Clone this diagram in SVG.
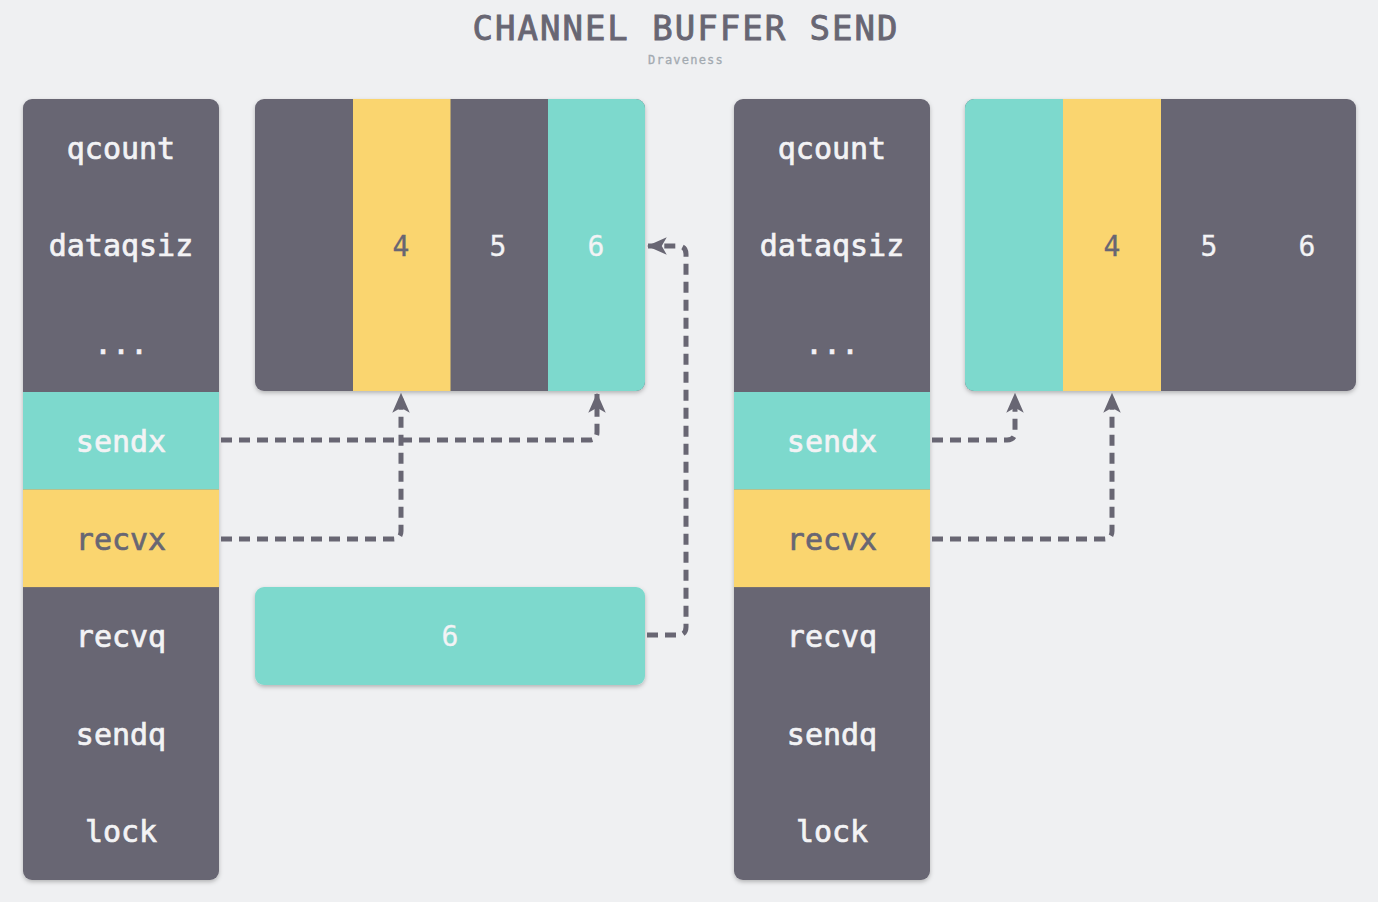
<svg xmlns="http://www.w3.org/2000/svg" width="1378" height="902" viewBox="0 0 1378 902">
<defs>
<style>
.t{font-family:"DejaVu Sans Mono","Liberation Mono",monospace;font-size:30px;text-anchor:middle;dominant-baseline:central;stroke-width:0.7px}
.w{fill:#f3f3f5;stroke:#f3f3f5}
.d{fill:#686673;stroke:#686673}
.n{font-family:"DejaVu Sans Mono","Liberation Mono",monospace;font-size:28px;text-anchor:middle;dominant-baseline:central;stroke-width:0.3px}
.c{fill:none;stroke:#686673;stroke-width:5;stroke-dasharray:11 7;stroke-linejoin:round}
</style>
<filter id="sh" x="-10%" y="-10%" width="120%" height="120%">
<feDropShadow dx="0" dy="2" stdDeviation="2" flood-color="#000" flood-opacity="0.25"/>
</filter>
<marker id="ar" viewBox="0 0 16 16" refX="15" refY="8" markerWidth="20" markerHeight="20" markerUnits="userSpaceOnUse" orient="auto">
<path d="M0,1 L16,8 L0,15 L4,8 Z" fill="#686673"/>
</marker>
<clipPath id="cl1"><rect x="23" y="99" width="196" height="781" rx="9"/></clipPath>
<clipPath id="cl2"><rect x="734" y="99" width="196" height="781" rx="9"/></clipPath>
<clipPath id="cb1"><rect x="255" y="99" width="390" height="292" rx="9"/></clipPath>
<clipPath id="cb2"><rect x="965" y="99" width="391" height="292" rx="9"/></clipPath>
</defs>
<rect width="1378" height="902" fill="#eff0f2"/>
<text x="686" y="28" font-family="DejaVu Sans Mono, Liberation Mono, monospace" font-size="34" fill="#686673" stroke="#686673" stroke-width="0.9" text-anchor="middle" dominant-baseline="central" letter-spacing="2">CHANNEL BUFFER SEND</text>
<text x="686" y="60" font-family="DejaVu Sans Mono, Liberation Mono, monospace" font-size="12" fill="#a3aab1" stroke="#a3aab1" stroke-width="0.3" text-anchor="middle" dominant-baseline="central" letter-spacing="1.2">Draveness</text>

<g id="hchan1">
<rect x="23" y="99" width="196" height="781" rx="9" fill="#686673" filter="url(#sh)"/>
<g clip-path="url(#cl1)">
<rect x="23" y="392" width="196" height="97.6" fill="#7dd9cd"/>
<rect x="23" y="489.5" width="196" height="97.6" fill="#fad56f"/>
</g>
<text class="t w" x="121" y="148">qcount</text>
<text class="t w" x="121" y="245">dataqsiz</text>
<text class="t w" x="121" y="343">...</text>
<text class="t w" x="121" y="441">sendx</text>
<text class="t d" x="121" y="539">recvx</text>
<text class="t w" x="121" y="636">recvq</text>
<text class="t w" x="121" y="734">sendq</text>
<text class="t w" x="121" y="831">lock</text>
</g>

<g id="buf1">
<rect x="255" y="99" width="390" height="292" rx="9" fill="#686673" filter="url(#sh)"/>
<g clip-path="url(#cb1)">
<rect x="353" y="99" width="97.5" height="292" fill="#fad56f"/>
<rect x="548" y="99" width="97" height="292" fill="#7dd9cd"/>
</g>
<text class="n d" x="401" y="246">4</text>
<text class="n w" x="498" y="246">5</text>
<text class="n w" x="596" y="246">6</text>
</g>

<g id="elem6">
<rect x="255" y="587" width="390" height="98" rx="9" fill="#7dd9cd" filter="url(#sh)"/>
<text class="n w" x="450" y="636">6</text>
</g>

<g id="hchan2">
<rect x="734" y="99" width="196" height="781" rx="9" fill="#686673" filter="url(#sh)"/>
<g clip-path="url(#cl2)">
<rect x="734" y="392" width="196" height="97.6" fill="#7dd9cd"/>
<rect x="734" y="489.5" width="196" height="97.6" fill="#fad56f"/>
</g>
<text class="t w" x="832" y="148">qcount</text>
<text class="t w" x="832" y="245">dataqsiz</text>
<text class="t w" x="832" y="343">...</text>
<text class="t w" x="832" y="441">sendx</text>
<text class="t d" x="832" y="539">recvx</text>
<text class="t w" x="832" y="636">recvq</text>
<text class="t w" x="832" y="734">sendq</text>
<text class="t w" x="832" y="831">lock</text>
</g>

<g id="buf2">
<rect x="965" y="99" width="391" height="292" rx="9" fill="#686673" filter="url(#sh)"/>
<g clip-path="url(#cb2)">
<rect x="965" y="99" width="98" height="292" fill="#7dd9cd"/>
<rect x="1063" y="99" width="98" height="292" fill="#fad56f"/>
</g>
<text class="n d" x="1112" y="246">4</text>
<text class="n w" x="1209" y="246">5</text>
<text class="n w" x="1307" y="246">6</text>
</g>

<g id="connectors">
<path class="c" d="M221,440 H589 Q597,440 597,432 V394" marker-end="url(#ar)"/>
<path class="c" d="M221,539 H393 Q401,539 401,531 V394" marker-end="url(#ar)"/>
<path class="c" d="M647,635 H678 Q686,635 686,627 V254 Q686,246 678,246 H648" marker-end="url(#ar)"/>
<path class="c" d="M932,440 H1007 Q1015,440 1015,432 V394" marker-end="url(#ar)"/>
<path class="c" d="M932,539 H1104 Q1112,539 1112,531 V394" marker-end="url(#ar)"/>
</g>
</svg>
